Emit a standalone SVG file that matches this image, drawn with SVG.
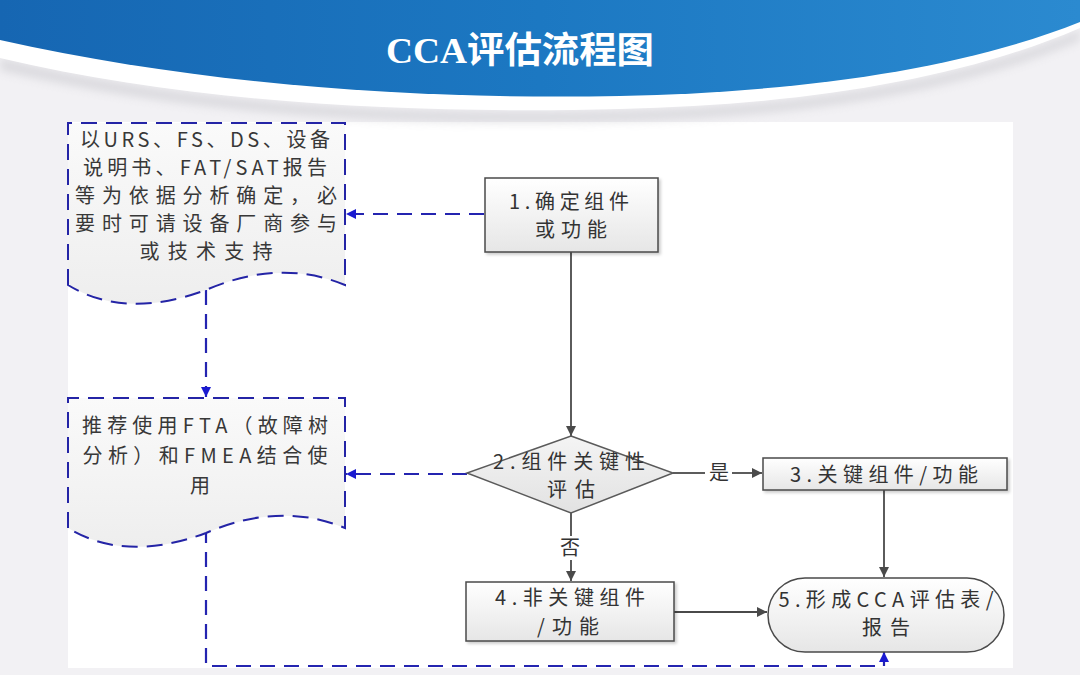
<svg xmlns="http://www.w3.org/2000/svg" width="1080" height="675" viewBox="0 0 1080 675">
<defs>
<linearGradient id="blueG" x1="0" y1="0" x2="1" y2="0">
<stop offset="0" stop-color="#1666b2"/>
<stop offset="0.5" stop-color="#1c78c2"/>
<stop offset="1" stop-color="#2b8ad0"/>
</linearGradient>
<linearGradient id="boxG" x1="0" y1="0" x2="0" y2="1">
<stop offset="0" stop-color="#ffffff"/>
<stop offset="1" stop-color="#e6e6e6"/>
</linearGradient>
<linearGradient id="diaG" x1="0" y1="0" x2="0" y2="1">
<stop offset="0" stop-color="#f4f4f4"/>
<stop offset="1" stop-color="#e2e2e2"/>
</linearGradient>
<linearGradient id="docG" x1="0" y1="0" x2="0" y2="1">
<stop offset="0" stop-color="#fafafa"/>
<stop offset="1" stop-color="#eeeeee"/>
</linearGradient>
<filter id="blur" x="-10%" y="-50%" width="120%" height="200%">
<feGaussianBlur stdDeviation="5"/>
</filter>
<filter id="sh" x="-10%" y="-10%" width="130%" height="130%">
<feDropShadow dx="2" dy="2" stdDeviation="1.5" flood-color="#000" flood-opacity="0.2"/>
</filter>
<marker id="ag" viewBox="0 0 10 10" refX="10" refY="5" markerWidth="12" markerHeight="10" markerUnits="userSpaceOnUse" orient="auto">
<path d="M0,0 L10,5 L0,10 Z" fill="#4a4a4a"/>
</marker>
<marker id="ab" viewBox="0 0 10 10" refX="10" refY="5" markerWidth="12" markerHeight="10" markerUnits="userSpaceOnUse" orient="auto">
<path d="M0,0 L10,5 L0,10 Z" fill="#1a1ad0"/>
</marker>
</defs>
<style>
.t{font-family:"Noto Sans CJK SC","Noto Sans",sans-serif;font-size:20px;fill:#383838;text-anchor:middle}
.b{font-family:"Noto Sans CJK SC","Noto Sans",sans-serif;font-size:20px;fill:#333;text-anchor:middle}
.box{fill:url(#boxG);stroke:#4a4a4a;stroke-width:1.5}
.doc{fill:url(#docG);stroke:#2424a6;stroke-width:2;stroke-dasharray:16 9}
.cg{fill:none;stroke:#4a4a4a;stroke-width:1.8}
.cb{fill:none;stroke:#2424b0;stroke-width:2.2;stroke-dasharray:15 9}
</style>
<rect width="1080" height="675" fill="#f2f1f4"/>
<rect x="68" y="122" width="945" height="546" fill="#ffffff"/>
<g id="header">
<path d="M0,70 C 200,118 420,126 620,121 C 800,117 960,92 1080,40 L1080,30 C 960,82 800,107 620,111 C 420,116 200,108 0,58 Z" fill="#bcbcc2" filter="url(#blur)" opacity="0.45"/>
<path d="M0,0 H1080 V28 C 960,80 800,105 620,109 C 420,114 200,105 0,58 Z" fill="#ffffff"/>
<path d="M0,0 H1080 V22 C 960,70 800,92 620,96 C 420,100 200,85 0,40 Z" fill="url(#blueG)"/>
<text x="520" y="63" font-family="Liberation Serif,Noto Sans CJK SC,serif" font-weight="bold" font-size="36" fill="#ffffff" text-anchor="middle" textLength="268" lengthAdjust="spacingAndGlyphs">CCA评估流程图</text>
</g>
<g id="connectors">
<path class="cg" d="M571,252 V436" marker-end="url(#ag)"/>
<path class="cg" d="M673,473 H705"/>
<path class="cg" d="M732,473 H762" marker-end="url(#ag)"/>
<text class="b" x="719" y="480">是</text>
<path class="cg" d="M571,513 V536"/>
<path class="cg" d="M571,560 V581" marker-end="url(#ag)"/>
<text class="b" x="570" y="555">否</text>
<path class="cg" d="M884,490 V577" marker-end="url(#ag)"/>
<path class="cg" d="M674,612 H767" marker-end="url(#ag)"/>
<path class="cb" d="M484,214 H346" marker-end="url(#ab)"/>
<path class="cb" d="M206,290 V397" marker-end="url(#ab)"/>
<path class="cb" d="M467,474 H346" marker-end="url(#ab)"/>
<path class="cb" d="M206,528 V666 H884 V652" marker-end="url(#ab)"/>
</g>
<g id="doc1">
<path class="doc" d="M68,285 V123 H345 V285 Q280,258 206,290 Q125,320 68,285 Z"/>
<text class="t" x="205" y="147" textLength="250" lengthAdjust="spacing">以URS、FS、DS、设备</text>
<text class="t" x="205" y="175" textLength="244" lengthAdjust="spacing">说明书、FAT/SAT报告</text>
<text class="t" x="206" y="203" textLength="262" lengthAdjust="spacing">等为依据分析确定，必</text>
<text class="t" x="206" y="231" textLength="262" lengthAdjust="spacing">要时可请设备厂商参与</text>
<text class="t" x="206" y="259" textLength="133" lengthAdjust="spacing">或技术支持</text>
</g>
<g id="doc2">
<path class="doc" d="M68,528 V398 H345 V528 Q280,501 206,533 Q125,563 68,528 Z"/>
<text class="t" x="205" y="433" textLength="246" lengthAdjust="spacing">推荐使用FTA（故障树</text>
<text class="t" x="205" y="463" textLength="245" lengthAdjust="spacing">分析）和FMEA结合使</text>
<text class="t" x="200" y="493">用</text>
</g>
<g id="n1">
<rect class="box" x="485" y="178" width="173" height="74" filter="url(#sh)"/>
<text class="b" x="569" y="209" textLength="120" lengthAdjust="spacing">1.确定组件</text>
<text class="b" x="571" y="237" textLength="72" lengthAdjust="spacing">或功能</text>
</g>
<g id="n2">
<path d="M571,436 L673,473 L571,513 L467,473 Z" fill="url(#diaG)" stroke="#5a5a5a" stroke-width="1.5"/>
<text class="b" x="569" y="469" textLength="152" lengthAdjust="spacing">2.组件关键性</text>
<text class="b" x="571" y="497" textLength="48" lengthAdjust="spacing">评估</text>
</g>
<g id="n3">
<rect class="box" x="763" y="458" width="244" height="32" filter="url(#sh)"/>
<text class="b" x="884" y="482" textLength="188" lengthAdjust="spacing">3.关键组件/功能</text>
</g>
<g id="n4">
<rect class="box" x="466" y="582" width="208" height="59" filter="url(#sh)"/>
<text class="b" x="570" y="605" textLength="150" lengthAdjust="spacing">4.非关键组件</text>
<text class="b" x="568" y="634" textLength="62" lengthAdjust="spacing">/功能</text>
</g>
<g id="n5">
<rect class="box" x="768" y="578" width="236" height="74" rx="37" ry="37"/>
<text class="b" x="886" y="607" textLength="215" lengthAdjust="spacing">5.形成CCA评估表/</text>
<text class="b" x="886" y="635" textLength="48" lengthAdjust="spacing">报告</text>
</g>
</svg>
